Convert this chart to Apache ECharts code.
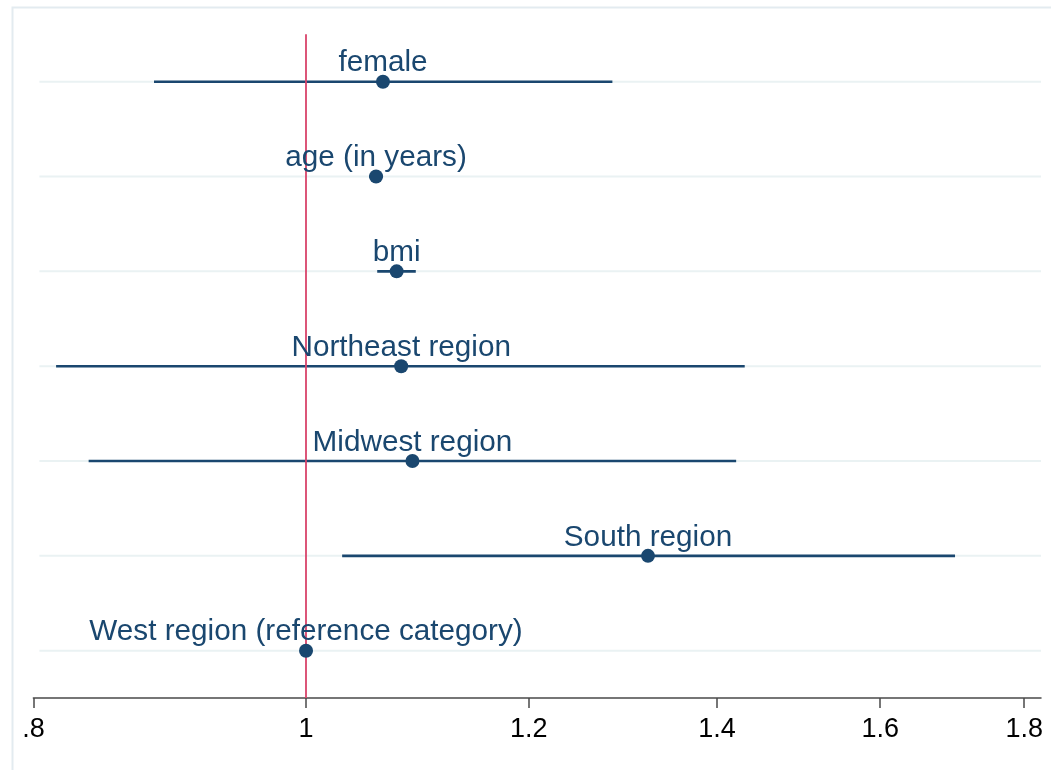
<!DOCTYPE html>
<html>
<head>
<meta charset="utf-8">
<script src="https://cdn.jsdelivr.net/npm/echarts@6/dist/echarts.min.js"></script>
<style>
html,body{margin:0;padding:0;background:#fff;}
#chart{width:1051px;height:770px;}
</style>
</head>
<body>
<div id="chart"></div>
<script>
const categories = ['female','age (in years)','bmi','Northeast region','Midwest region','South region','West region (reference category)'];
const estimates = [1.065, 1.059, 1.077, 1.081, 1.091, 1.323, 1];
const ciLower  = [0.883, 1.053, 1.060, 0.815, 0.837, 1.030, 1];
const ciUpper  = [1.285, 1.065, 1.094, 1.432, 1.422, 1.701, 1];
const tickValues = [0.8, 1, 1.2, 1.4, 1.6, 1.8];
const tickLabels = ['.8', '1', '1.2', '1.4', '1.6', '1.8'];
const axisMin = 0.8, axisMax = 1.825;
const refValue = 1;

const navy = '#1a476f';
const FONT = '"Liberation Sans", Arial, sans-serif';
const logTicks = tickValues.map(Math.log);

function labelFor(v){
  let best = 0, d = Infinity;
  logTicks.forEach((t,i)=>{ const dd = Math.abs(t - v); if (dd < d){ d = dd; best = i; } });
  return tickLabels[best];
}

const chart = echarts.init(document.getElementById('chart'), null, {renderer:'canvas'});
chart.setOption({
  animation: false,
  backgroundColor: '#ffffff',
  graphic: [{
    type: 'rect', z: -10,
    shape: {x: 12.5, y: 7.5, width: 1200, height: 900},
    style: {fill: 'none', stroke: '#e3ebf0', lineWidth: 2}
  }],
  grid: {left: 33.4, right: 10, top: 34.3, bottom: 71.9, containLabel: false},
  xAxis: {
    type: 'value',
    min: Math.log(axisMin),
    max: Math.log(axisMax),
    axisLine: {show: true, lineStyle: {color: '#4a4a4a', width: 1.5}},
    axisTick: {show: true, customValues: logTicks, length: 10, lineStyle: {color: '#4a4a4a', width: 1.5}},
    axisLabel: {show: true, customValues: logTicks, formatter: v => labelFor(v), fontSize: 27, color: '#000', fontFamily: FONT, margin: 18},
    splitLine: {show: false}
  },
  yAxis: {
    type: 'category',
    data: categories,
    inverse: true,
    show: false,
    boundaryGap: true
  },
  series: [
    {
      type: 'custom',
      z: 1,
      silent: true,
      data: categories.map((c,i)=>[i]),
      encode: {y: 0},
      renderItem: function(params, api){
        const cs = params.coordSys;
        const p = api.coord([Math.log(refValue), api.value(0)]);
        return {type: 'line', shape: {x1: cs.x + 6, y1: p[1], x2: cs.x + cs.width, y2: p[1]},
                style: {stroke: '#eaf2f3', lineWidth: 2}};
      }
    },
    {
      type: 'custom',
      z: 3,
      silent: true,
      data: categories.map((c,i)=>[Math.log(ciLower[i]), Math.log(ciUpper[i]), i]),
      encode: {x: [0,1], y: 2},
      renderItem: function(params, api){
        const a = api.coord([api.value(0), api.value(2)]);
        const b = api.coord([api.value(1), api.value(2)]);
        return {type: 'line', shape: {x1: a[0], y1: a[1], x2: b[0], y2: b[1]},
                style: {stroke: navy, lineWidth: 2.6}};
      }
    },
    {
      type: 'scatter',
      z: 5,
      symbol: 'circle',
      symbolSize: 14,
      itemStyle: {color: navy, opacity: 1},
      data: categories.map((c,i)=>[Math.log(estimates[i]), i]),
      label: {
        show: true,
        position: 'top',
        distance: -3,
        formatter: p => categories[p.dataIndex],
        fontSize: 29.7,
        lineHeight: 29,
        color: navy,
        opacity: 1,
        fontFamily: FONT
      },
      emphasis: {disabled: true},
      markLine: {
        silent: true,
        symbol: ['none','none'],
        label: {show: false},
        lineStyle: {color: '#d9436a', width: 1.8, type: 'solid', opacity: 1},
        data: [{xAxis: Math.log(refValue)}],
        z: 4
      }
    }
  ]
});
</script>
</body>
</html>
